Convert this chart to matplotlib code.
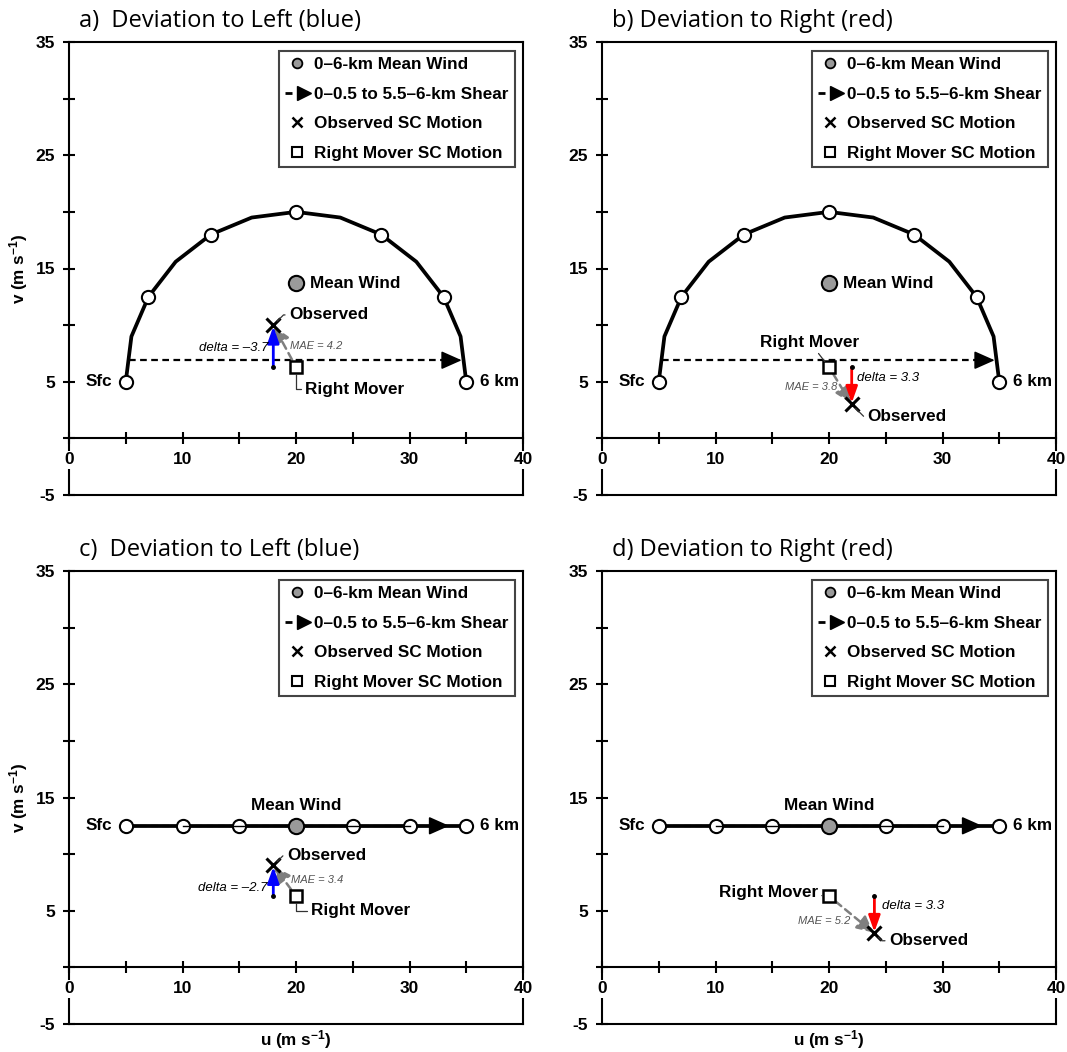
import matplotlib
matplotlib.use("Agg")
import matplotlib.pyplot as plt
from matplotlib.lines import Line2D
from matplotlib.legend_handler import HandlerBase

plt.rcParams['font.family'] = ['Liberation Sans', 'DejaVu Sans']
plt.rcParams['font.weight'] = 'bold'
plt.rcParams['axes.unicode_minus'] = False
plt.rcParams['mathtext.fontset'] = 'custom'
plt.rcParams['mathtext.bf'] = 'Liberation Sans:bold'
plt.rcParams['mathtext.rm'] = 'Liberation Sans:bold'
plt.rcParams['mathtext.default'] = 'bf'

# ---------------- data ----------------
TITLES = ["a)  Deviation to Left (blue)", "b) Deviation to Right (red)",
          "c)  Deviation to Left (blue)", "d) Deviation to Right (red)"]

# curved hodograph (panels a, b), every 0.5 km from sfc to 6 km
HODO_CURVED_U = [5, 5.5, 7, 9.4, 12.5, 16.1, 20, 23.9, 27.5, 30.6, 33, 34.5, 35]
HODO_CURVED_V = [5, 9.0, 12.5, 15.6, 18, 19.5, 20, 19.5, 18, 15.6, 12.5, 9.0, 5]

# straight hodograph (panels c, d), every 1 km
HODO_STRAIGHT_U = [5, 10, 15, 20, 25, 30, 35]
HODO_STRAIGHT_V = [12.5, 12.5, 12.5, 12.5, 12.5, 12.5, 12.5]

MEAN_U = [20, 20, 20, 20]
MEAN_V = [13.7, 13.7, 12.5, 12.5]

SHEAR_U0 = [5.3, 5.3, 5.3, 5.3]
SHEAR_U1 = [34.6, 34.6, 33.5, 33.5]
SHEAR_V = [6.9, 6.9, 12.5, 12.5]

OBS_U = [18, 22, 18, 24]
OBS_V = [10.0, 3.0, 9.0, 3.0]

RM_U = [20, 20, 20, 20]
RM_V = [6.3, 6.3, 6.3, 6.3]

DELTA = [-3.7, 3.3, -2.7, 3.3]
MAE = [4.2, 3.8, 3.4, 5.2]

LEGEND_LABELS = ["0\u20136-km Mean Wind", "0\u20130.5 to 5.5\u20136-km Shear",
                 "Observed SC Motion", "Right Mover SC Motion"]

# ---------------- layout (pixels in a 1067x1052 figure) ----------------
W, H = 1067, 1052
AX_LEFT = [69, 602, 69, 602]
AX_TOP = [42, 42, 571, 571]
AX_W, AX_H = 454, 453

# label placement per panel
OBS_TXT = [(19.4, 10.9), (23.4, 1.9), (19.2, 9.9), (25.3, 2.35)]
OBS_CONN = ["angle,angleA=0,angleB=45,rad=0", "angle,angleA=0,angleB=-45,rad=0",
            "angle,angleA=0,angleB=45,rad=0", "angle,angleA=0,angleB=-45,rad=0"]
RM_TXT = [(20.8, 4.35), (18.3, 8.5), (21.3, 5.0), (19.0, 6.6)]
RM_HA = ["left", "center", "left", "right"]
RM_CONN = ["angle,angleA=0,angleB=90,rad=0", "arc3", "angle,angleA=0,angleB=90,rad=0", "arc3"]
DELTA_TXT = [(17.55, 8.0), (22.5, 5.3), (17.5, 7.0), (24.7, 5.4)]
DELTA_HA = ["right", "left", "right", "left"]
MAE_TXT = [(19.5, 8.15), (20.7, 4.5), (19.6, 7.7), (21.9, 4.1)]
MAE_HA = ["left", "right", "left", "right"]


class ShearKey:
    pass


class ShearHandler(HandlerBase):
    def create_artists(self, legend, orig_handle, xdescent, ydescent,
                       width, height, fontsize, trans):
        y = height / 2 - ydescent
        x0 = -xdescent
        dash = Line2D([x0, x0 + 0.28 * width], [y, y], color='k', lw=2.0,
                      solid_capstyle='butt', transform=trans)
        head = Line2D([x0 + 0.74 * width], [y], marker='>', ms=10, color='k',
                      ls='none', transform=trans)
        return [dash, head]


def fmt(v):
    return f"{v:.1f}".replace("-", "\u2013")


fig = plt.figure(figsize=(W / 100, H / 100), dpi=100)

for i in range(4):
    ax = fig.add_axes([AX_LEFT[i] / W, 1 - (AX_TOP[i] + AX_H) / H, AX_W / W, AX_H / H])
    ax.set_xlim(0, 40)
    ax.set_ylim(-5, 35)

    # frame + zero axis
    for s in ax.spines.values():
        s.set_linewidth(1.5)
    ax.spines['bottom'].set_position(('data', 0))
    ax.axhline(-5, color='k', lw=1.5, clip_on=False, zorder=3)
    ax.set_xticks([0, 10, 20, 30, 40])
    ax.set_xticks([5, 15, 25, 35], minor=True)
    ax.set_yticks([-5, 5, 15, 25, 35])
    ax.set_yticks([0, 10, 20, 30], minor=True)
    ax.tick_params(which='both', direction='inout', length=8, width=1.5,
                   labelsize=12.5, pad=6)
    for lbl in ax.get_xticklabels():
        lbl.set_bbox(dict(fc='white', ec='none', pad=1))
    ax.xaxis.set_zorder(3.5)

    # hodograph
    if i < 2:
        hu, hv = HODO_CURVED_U, HODO_CURVED_V
        ax.plot(hu, hv, color='k', lw=2.7, zorder=3)
        ax.plot(hu[::2], hv[::2], 'o', ms=9.5, mfc='white', mec='k', mew=1.5, zorder=4)
    else:
        hu, hv = HODO_STRAIGHT_U, HODO_STRAIGHT_V
        ax.plot(hu, hv, color='k', lw=2.7, zorder=3)
        ax.plot(hu, hv, 'o', ms=9.5, mfc='white', mec='k', mew=1.5, zorder=4)
        ax.plot(hu[1:-1], hv[1:-1], color='k', lw=1.0, zorder=4.5)

    # shear vector: dashed shaft + solid filled head
    ax.plot([SHEAR_U0[i], SHEAR_U1[i] - 1.0], [SHEAR_V[i], SHEAR_V[i]],
            color='k', lw=1.6, ls=(0, (3, 2)), zorder=2.5)
    ax.annotate('', xy=(SHEAR_U1[i], SHEAR_V[i]), xytext=(SHEAR_U1[i] - 1.2, SHEAR_V[i]),
                arrowprops=dict(arrowstyle='-|>,head_length=0.9,head_width=0.4',
                                lw=1.2, color='k', shrinkA=0, shrinkB=0,
                                mutation_scale=14), zorder=2.6)

    # mean wind
    ax.plot(MEAN_U[i], MEAN_V[i], 'o', ms=11, mfc='#9a9a9a', mec='k', mew=1.5, zorder=5)
    if i < 2:
        ax.text(MEAN_U[i] + 1.2, MEAN_V[i], "Mean Wind", ha='left', va='center', fontsize=12.3)
    else:
        ax.text(MEAN_U[i], MEAN_V[i] + 1.8, "Mean Wind", ha='center', va='center', fontsize=12.3)

    ax.text(hu[0] - 1.2, hv[0], "Sfc", ha='right', va='center', fontsize=12.3)
    ax.text(hu[-1] + 1.2, hv[-1], "6 km", ha='left', va='center', fontsize=12.3)

    ou, ov, ru, rv = OBS_U[i], OBS_V[i], RM_U[i], RM_V[i]

    # deviation (delta) arrow
    col = 'blue' if DELTA[i] < 0 else 'red'
    ax.annotate('', xy=(ou, ov), xytext=(ou, rv),
                arrowprops=dict(arrowstyle='-|>,head_length=0.7,head_width=0.25',
                                color=col, lw=2.0, shrinkA=0, shrinkB=1,
                                mutation_scale=14), zorder=5)
    ax.plot(ou, rv, 'o', ms=2.5, color='k', zorder=5)

    # MAE arrow (right mover -> observed)
    ax.annotate('', xy=(ou, ov), xytext=(ru, rv),
                arrowprops=dict(arrowstyle='-|>,head_length=0.7,head_width=0.35',
                                ls=(0, (3, 2)), color='#7f7f7f', lw=1.8, shrinkA=6,
                                shrinkB=1, mutation_scale=14), zorder=4.8)

    ax.plot(ru, rv, 's', ms=9, mfc='white', mec='k', mew=1.8, zorder=6)
    ax.plot(ou, ov, 'x', ms=10, mew=2.2, color='k', zorder=6)

    ax.annotate("Observed", xy=(ou, ov), xytext=OBS_TXT[i], ha='left', va='center',
                fontsize=12.3,
                arrowprops=dict(arrowstyle='-', lw=0.9, color='#333333', shrinkA=1,
                                shrinkB=4, connectionstyle=OBS_CONN[i]), zorder=6)
    ax.annotate("Right Mover", xy=(ru, rv), xytext=RM_TXT[i], ha=RM_HA[i], va='center',
                fontsize=12.3,
                arrowprops=dict(arrowstyle='-', lw=0.9, color='#333333', shrinkA=1,
                                shrinkB=5, connectionstyle=RM_CONN[i]), zorder=6)

    ax.text(*DELTA_TXT[i], f"delta = {fmt(DELTA[i])}", ha=DELTA_HA[i], va='center',
            fontsize=9.5, style='italic', fontweight='normal', zorder=6)
    ax.text(*MAE_TXT[i], f"MAE = {fmt(MAE[i])}", ha=MAE_HA[i], va='center',
            fontsize=8, style='italic', fontweight='normal', color='#555555', zorder=6)

    # legend
    handles = [Line2D([], [], ls='none', marker='o', ms=7, mfc='#9a9a9a', mec='k', mew=1.3),
               ShearKey(),
               Line2D([], [], ls='none', marker='x', ms=6.5, mew=1.8, color='k'),
               Line2D([], [], ls='none', marker='s', ms=6.5, mfc='white', mec='k', mew=1.5)]
    leg = ax.legend(handles, LEGEND_LABELS, handler_map={ShearKey: ShearHandler()},
                    loc='upper right', bbox_to_anchor=(0.982, 0.98), borderaxespad=0,
                    fancybox=False, framealpha=1, edgecolor='#444444', fontsize=12.3,
                    handlelength=1.5, handletextpad=0.25, borderpad=0.35,
                    labelspacing=0.85)
    leg.get_frame().set_linewidth(1.5)
    leg.set_zorder(7)

    # title and axis labels
    ax.text(0.022, 1 + 15 / AX_H, TITLES[i], transform=ax.transAxes, ha='left',
            va='baseline', fontsize=17, fontweight='normal', family='Open Sans')
    if i % 2 == 0:
        ax.text(-50 / AX_W, 0.5, "v (m s$^{-1}$)", transform=ax.transAxes, rotation=90,
                ha='center', va='center', fontsize=12.3)
    if i >= 2:
        ax.text(0.5, -16 / AX_H, "u (m s$^{-1}$)", transform=ax.transAxes,
                ha='center', va='center', fontsize=12.3)

fig.savefig("out.png", dpi=100)
